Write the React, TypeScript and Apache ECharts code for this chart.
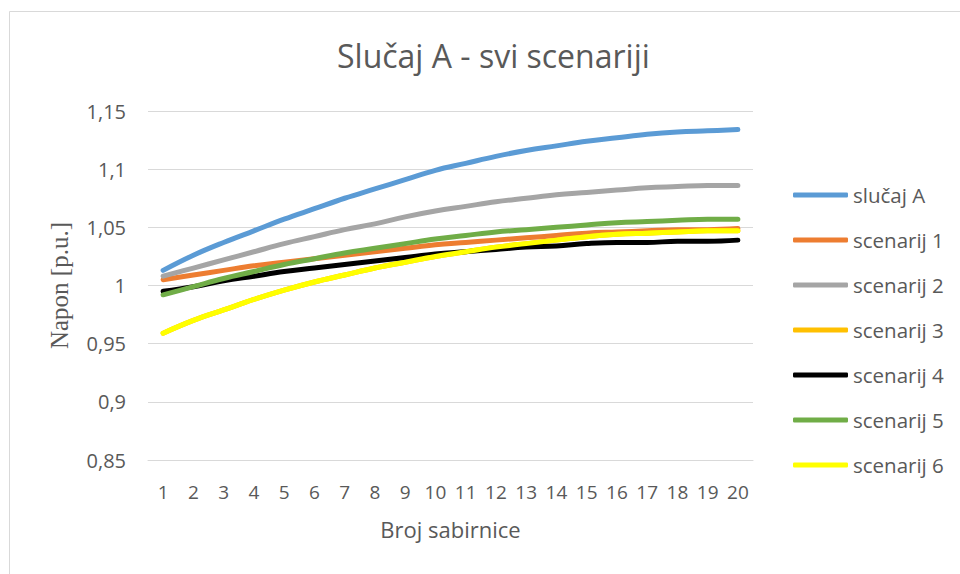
import React, { useEffect, useRef } from "react";
import * as echarts from "echarts";

const categories = ["1","2","3","4","5","6","7","8","9","10","11","12","13","14","15","16","17","18","19","20"];
const seriesNames = ["slučaj A","scenarij 1","scenarij 2","scenarij 3","scenarij 4","scenarij 5","scenarij 6"];
const slucajA = [1.013,1.026,1.037,1.047,1.057,1.066,1.075,1.083,1.091,1.099,1.105,1.111,1.116,1.120,1.124,1.127,1.130,1.132,1.133,1.134];
const scenarij1 = [1.005,1.009,1.013,1.017,1.020,1.023,1.026,1.029,1.032,1.035,1.037,1.039,1.041,1.043,1.045,1.046,1.047,1.048,1.048,1.049];
const scenarij2 = [1.008,1.015,1.022,1.029,1.036,1.042,1.048,1.053,1.059,1.064,1.068,1.072,1.075,1.078,1.080,1.082,1.084,1.085,1.086,1.086];
const scenarij3 = [0.959,0.970,0.979,0.988,0.996,1.003,1.009,1.015,1.020,1.025,1.029,1.033,1.036,1.039,1.042,1.044,1.045,1.046,1.047,1.047];
const scenarij4 = [0.995,0.999,1.004,1.008,1.012,1.015,1.018,1.021,1.024,1.027,1.029,1.031,1.033,1.034,1.036,1.037,1.037,1.038,1.038,1.039];
const scenarij5 = [0.992,0.999,1.006,1.012,1.018,1.023,1.028,1.032,1.036,1.040,1.043,1.046,1.048,1.050,1.052,1.054,1.055,1.056,1.057,1.057];
const scenarij6 = [0.959,0.970,0.979,0.988,0.996,1.003,1.009,1.015,1.020,1.025,1.029,1.033,1.036,1.039,1.042,1.044,1.045,1.046,1.047,1.047];
const colors = ["#5B9BD5","#ED7D31","#A5A5A5","#FFC000","#000000","#70AD47","#FFFF00"];

export default function App() {
  const ref = useRef<HTMLDivElement>(null);
  useEffect(() => {
    document.body.style.margin = "0";
    if (!ref.current) return;
    const chart = echarts.init(ref.current, null, { renderer: "svg" });
    const data = [slucajA, scenarij1, scenarij2, scenarij3, scenarij4, scenarij5, scenarij6];
    const font = "'Open Sans', sans-serif";
    chart.setOption({
      animation: false,
      backgroundColor: "#ffffff",
      color: colors,
      title: {
        text: "Slučaj A - svi scenariji",
        left: 332,
        top: 34,
        textStyle: { fontFamily: font, fontSize: 32, fontWeight: "normal", color: "#595959" },
      },
      graphic: [
        {
          type: "rect",
          shape: { x: 9.5, y: 11.5, width: 1000, height: 1000 },
          style: { fill: "none", stroke: "#D9D9D9", lineWidth: 1 },
          silent: true,
        },
      ],
      legend: {
        orient: "vertical",
        left: 788,
        top: 178,
        icon: "roundRect",
        itemWidth: 55,
        itemHeight: 5,
        itemGap: 21,
        data: seriesNames,
        textStyle: { fontFamily: font, fontSize: 20.5, color: "#595959", lineHeight: 24 },
      },
      grid: { left: 148, right: 207, top: 111, bottom: 114, containLabel: false },
      xAxis: {
        type: "category",
        data: categories,
        boundaryGap: true,
        name: "Broj sabirnice",
        nameLocation: "middle",
        nameGap: 58,
        nameTextStyle: { fontFamily: font, fontSize: 22, color: "#595959" },
        axisLine: { show: true, lineStyle: { color: "#D9D9D9", width: 1 } },
        axisTick: { show: false },
        axisLabel: { fontFamily: font, fontSize: 19, color: "#595959", margin: 22, interval: 0 },
      },
      yAxis: {
        type: "value",
        min: 0.85,
        max: 1.15,
        interval: 0.05,
        name: "Napon [p.u.]",
        nameLocation: "middle",
        nameRotate: 90,
        nameGap: 76,
        nameTextStyle: { fontFamily: "'Liberation Serif', serif", fontSize: 25, color: "#595959" },
        axisLine: { show: false },
        axisTick: { show: false },
        splitLine: { lineStyle: { color: "#D9D9D9", width: 1 } },
        axisLabel: {
          fontFamily: font,
          fontSize: 20,
          color: "#595959",
          margin: 22,
          formatter: (v: number) => String(parseFloat(v.toFixed(2))).replace(".", ","),
        },
      },
      series: seriesNames.map((name, i) => ({
        name,
        type: "line",
        data: data[i],
        smooth: 0.4,
        symbol: "none",
        showSymbol: false,
        lineStyle: { width: 5, color: colors[i], cap: "round", join: "round" },
        itemStyle: { color: colors[i] },
      })),
    });
    return () => chart.dispose();
  }, []);
  return <div ref={ref} style={{ width: 960, height: 574 }} />;
}
